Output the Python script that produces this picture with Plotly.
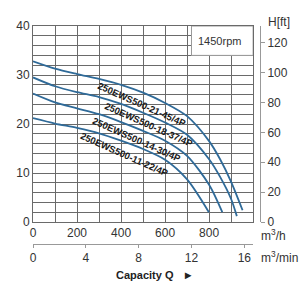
import plotly.graph_objects as go

# ---- data (m3/h vs head m) ----
c1_q = [0, 100, 200, 300, 400, 500, 600, 700, 800, 850, 900, 952]
c1_h = [32.8, 31.3, 30.2, 29.2, 28.0, 26.4, 24.3, 21.6, 16.5, 12.8, 8.2, 2.4]
c2_q = [0, 100, 200, 300, 400, 500, 600, 700, 800, 850, 900, 926]
c2_h = [29.5, 27.7, 26.5, 25.5, 24.1, 22.3, 20.3, 17.8, 12.8, 9.2, 4.7, 1.2]
c3_q = [0, 100, 200, 300, 400, 500, 600, 700, 800, 860]
c3_h = [26.2, 24.4, 23.2, 22.0, 20.4, 18.6, 16.6, 13.5, 7.6, 2.0]
c4_q = [0, 100, 200, 300, 400, 500, 600, 700, 799]
c4_h = [21.2, 20.1, 19.2, 18.1, 16.6, 14.9, 12.7, 8.7, 2.0]

names = ["250EWS500-21-45/4P", "250EWS500-18-37/4P",
         "250EWS500-14-30/4P", "250EWS500-11-22/4P"]
label_q = [495, 525, 471, 417]
label_h = [23.9, 19.8, 16.8, 13.8]

x_ticks = list(range(0, 1001, 100))
x_text = ["0", "", "200", "", "400", "", "600", "", "800", "", ""]
y_ticks = list(range(0, 41, 2))
y_text = [str(v) if v % 10 == 0 else "" for v in y_ticks]
ft_ticks = [0, 20, 40, 60, 80, 100, 120]
min_ticks = [0, 4, 8, 12, 16]

FONT = "Liberation Sans, Arial, sans-serif"
LINE = "#2f6a98"
GRID = "#6a6a6a"

fig = go.Figure()
for q, h in [(c1_q, c1_h), (c2_q, c2_h), (c3_q, c3_h), (c4_q, c4_h)]:
    fig.add_trace(go.Scatter(x=q, y=h, mode="lines",
                             line=dict(color=LINE, width=1.8, shape="spline", smoothing=0.8),
                             hoverinfo="skip", showlegend=False))
# empty trace to register secondary axes
fig.add_trace(go.Scatter(x=[], y=[], xaxis="x2", yaxis="y2", showlegend=False))

W = 300
l, r, t, b = 33, 36, 26, 56
pw = W - l - r
ph = W - t - b
xdom = [0, 224 / pw]
ydom = [22 / ph, 1]

def px(xp):
    return (xp - l) / pw

def py(yp):
    return (W - b - yp) / ph

fig.update_layout(
    width=W, height=W, margin=dict(l=l, r=r, t=t, b=b),
    paper_bgcolor="white", plot_bgcolor="white",
    font=dict(family=FONT, size=12, color="#333"),
    xaxis=dict(domain=xdom, range=[0, 1000], tickmode="array", tickvals=x_ticks, ticktext=x_text,
               showgrid=True, gridcolor=GRID, gridwidth=1, showline=True, linecolor=GRID, mirror=True,
               ticks="", zeroline=False, tickfont=dict(size=12, color="#333")),
    yaxis=dict(domain=ydom, range=[0, 40], tickmode="array", tickvals=y_ticks, ticktext=y_text,
               showgrid=True, gridcolor=GRID, gridwidth=1, showline=True, linecolor=GRID, mirror=True,
               ticks="", zeroline=False, tickfont=dict(size=12, color="#333")),
    yaxis2=dict(overlaying="y", anchor="free", position=1.0, side="right", range=[0, 40 * 3.28084],
                tickmode="array", tickvals=ft_ticks, showgrid=False, showline=True, linecolor="#999",
                ticks="outside", ticklen=4, tickcolor="#999", zeroline=False,
                tickfont=dict(size=12, color="#333")),
    xaxis2=dict(overlaying="x", anchor="free", position=0.0, side="bottom", range=[0, 1000 / 60],
                tickmode="array", tickvals=min_ticks, showgrid=False, showline=True, linecolor="#999",
                ticks="outside", ticklen=3, tickcolor="#999", zeroline=False,
                tickfont=dict(size=12, color="#333")),
)

fig.add_shape(type="rect", xref="x", yref="y", x0=720, x1=1000, y0=34, y1=40,
              fillcolor="white", line=dict(color="#999", width=1), layer="above")

fig.add_annotation(x=848, y=37.0, xref="x", yref="y", text="1450rpm", showarrow=False,
                   font=dict(size=11, color="#333"))

for name, q, h in zip(names, label_q, label_h):
    fig.add_annotation(x=q, y=h, xref="x", yref="y", text="<b>" + name + "</b>", showarrow=False,
                       textangle=24, font=dict(size=9.5, color="#1a1a1a"))

fig.add_annotation(x=px(263), y=py(235), xref="paper", yref="paper", xanchor="left", yanchor="middle",
                   text="m<sup>3</sup>/h", showarrow=False, font=dict(size=12, color="#333"))
fig.add_annotation(x=px(263), y=py(257), xref="paper", yref="paper", xanchor="left", yanchor="middle",
                   text="m<sup>3</sup>/min", showarrow=False, font=dict(size=12, color="#333"))
fig.add_annotation(x=px(283), y=py(22), xref="paper", yref="paper", xanchor="center", yanchor="middle",
                   text="H[ft]", showarrow=False, font=dict(size=12, color="#333"))
fig.add_annotation(x=px(157), y=py(275), xref="paper", yref="paper", xanchor="center", yanchor="middle",
                   text="<b>Capacity Q   ►</b>", showarrow=False, font=dict(size=11, color="#222"))

fig.write_html("out.html")
